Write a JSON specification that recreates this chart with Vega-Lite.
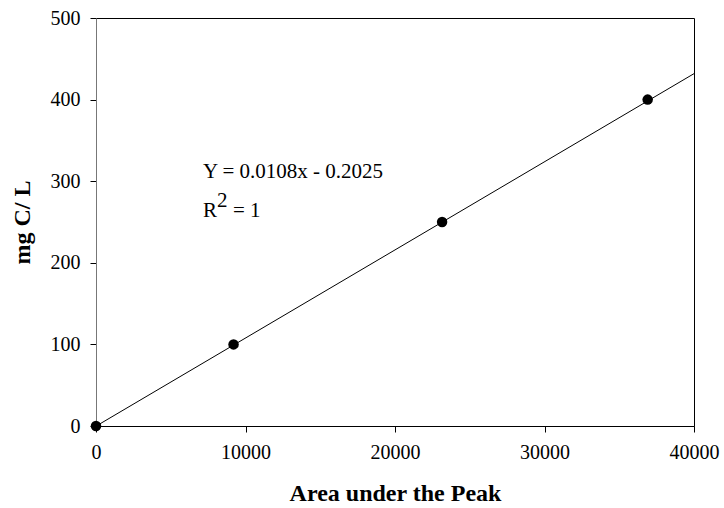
{
  "$schema": "https://vega.github.io/schema/vega-lite/v6.json",
  "width": 598,
  "height": 408,
  "autosize": {"type": "none"},
  "padding": {"left": 96, "top": 18, "right": 30, "bottom": 82},
  "background": "white",
  "config": {
    "view": {"stroke": "black", "strokeWidth": 1},
    "font": "Liberation Serif",
    "axis": {
      "grid": false,
      "labelFont": "Liberation Serif",
      "labelFontSize": 20,
      "labelColor": "black",
      "titleFont": "Liberation Serif",
      "titleFontSize": 24,
      "titleFontWeight": "bold",
      "titleColor": "black",
      "tickColor": "black",
      "tickSize": 6,
      "domainColor": "black"
    }
  },
  "datasets": {
    "pts": [
      {"area": 0, "mg": 0},
      {"area": 9200, "mg": 100},
      {"area": 23150, "mg": 250},
      {"area": 36900, "mg": 400}
    ],
    "fit": [
      {"area": 0, "mg": -0.2025},
      {"area": 40000, "mg": 431.7975}
    ],
    "ann": [
      {"area": 7150, "mg": 311, "label": "Y = 0.0108x - 0.2025"}
    ],
    "r": [
      {"area": 7150, "mg": 264, "label": "R"}
    ],
    "sup": [
      {"area": 7150, "mg": 264, "label": "2"}
    ],
    "eq": [
      {"area": 7150, "mg": 264, "label": "= 1"}
    ]
  },
  "layer": [
    {
      "data": {"name": "fit"},
      "mark": {"type": "line", "color": "black", "strokeWidth": 1, "clip": true},
      "encoding": {
        "x": {
          "field": "area", "type": "quantitative",
          "scale": {"domain": [0, 40000], "nice": false},
          "axis": {"title": "Area under the Peak", "values": [0, 10000, 20000, 30000, 40000], "format": "d", "labelPadding": 10, "titlePadding": 19, "labelFlush": false}
        },
        "y": {
          "field": "mg", "type": "quantitative",
          "scale": {"domain": [0, 500], "nice": false},
          "axis": {"title": "mg C/ L", "values": [0, 100, 200, 300, 400, 500], "labelPadding": 10, "titlePadding": 16, "domainColor": "#777", "labelFlush": false}
        }
      }
    },
    {
      "data": {"name": "pts"},
      "mark": {"type": "point", "filled": true, "color": "black", "size": 110, "opacity": 1, "clip": false},
      "encoding": {
        "x": {"field": "area", "type": "quantitative"},
        "y": {"field": "mg", "type": "quantitative"}
      }
    },
    {
      "data": {"name": "ann"},
      "mark": {"type": "text", "align": "left", "baseline": "middle", "fontSize": 21, "font": "Liberation Serif", "color": "black"},
      "encoding": {
        "x": {"field": "area", "type": "quantitative"},
        "y": {"field": "mg", "type": "quantitative"},
        "text": {"field": "label"}
      }
    },
    {
      "data": {"name": "r"},
      "mark": {"type": "text", "align": "left", "baseline": "middle", "fontSize": 21, "font": "Liberation Serif", "color": "black"},
      "encoding": {
        "x": {"field": "area", "type": "quantitative"},
        "y": {"field": "mg", "type": "quantitative"},
        "text": {"field": "label"}
      }
    },
    {
      "data": {"name": "sup"},
      "mark": {"type": "text", "align": "left", "baseline": "middle", "fontSize": 21, "font": "Liberation Serif", "color": "black", "dx": 14, "dy": -10},
      "encoding": {
        "x": {"field": "area", "type": "quantitative"},
        "y": {"field": "mg", "type": "quantitative"},
        "text": {"field": "label"}
      }
    },
    {
      "data": {"name": "eq"},
      "mark": {"type": "text", "align": "left", "baseline": "middle", "fontSize": 21, "font": "Liberation Serif", "color": "black", "dx": 30},
      "encoding": {
        "x": {"field": "area", "type": "quantitative"},
        "y": {"field": "mg", "type": "quantitative"},
        "text": {"field": "label"}
      }
    }
  ]
}
